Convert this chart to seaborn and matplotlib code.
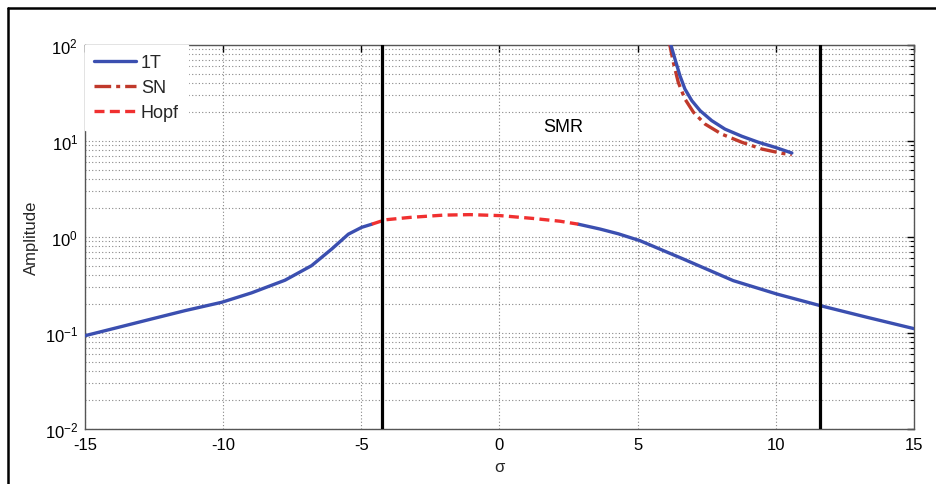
import matplotlib
matplotlib.use("Agg")
import matplotlib.pyplot as plt
import seaborn as sns
import numpy as np
import pandas as pd
from matplotlib.lines import Line2D
from matplotlib.ticker import LogLocator, FixedLocator, NullFormatter

# ---- data ----
t1_left_x = [-15.0, -13.79, -12.59, -11.38, -10.05, -8.97, -7.76, -6.80, -6.07, -5.47, -4.99, -4.62]
t1_left_y = [0.0937, 0.1146, 0.140, 0.171, 0.209, 0.262, 0.355, 0.503, 0.75, 1.07, 1.26, 1.36]

hopf_x = [-4.62, -4.14, -3.24, -2.03, -1.07, 0.02, 1.22, 2.19, 2.85]
hopf_y = [1.36, 1.51, 1.60, 1.69, 1.71, 1.67, 1.56, 1.46, 1.36]

t1_right_x = [2.85, 3.64, 4.30, 5.09, 6.65, 8.46, 10.03, 11.60, 13.29, 15.0]
t1_right_y = [1.36, 1.21, 1.08, 0.914, 0.59, 0.351, 0.255, 0.193, 0.146, 0.111]

t1_upper_x = [6.17, 6.21, 6.35, 6.53, 6.71, 6.96, 7.26, 7.68, 8.16, 8.77, 9.37, 9.97, 10.58]
t1_upper_y = [110.0, 98.4, 71.4, 47.9, 34.8, 26.3, 20.7, 16.3, 13.3, 11.2, 9.7, 8.6, 7.5]

sn_x = [6.13, 6.17, 6.29, 6.47, 6.71, 7.02, 7.44, 8.04, 8.77, 9.49, 10.21, 10.58]
sn_y = [110.0, 98.0, 66.0, 40.8, 27.4, 19.9, 15.0, 11.8, 9.7, 8.25, 7.45, 7.2]

boundary_x = [-4.25, 11.6]
xticks = [-15, -10, -5, 0, 5, 10, 15]
smr_label = "SMR"
smr_pos = (2.3, 14.0)

BLUE = "#3B4FB0"
SN_RED = "#C0392B"
HOPF_RED = "#F03030"

sns.set_theme(style="white")
plt.rcParams["font.family"] = ["Liberation Sans", "DejaVu Sans"]
plt.rcParams["mathtext.default"] = "regular"
plt.rcParams["axes.unicode_minus"] = False

fig = plt.figure(figsize=(9.37, 4.85), dpi=100)
ax = fig.add_axes([85/937, 1-430/485, (914-85)/937, (430-46)/485])

def seg(x, y, **kw):
    df = pd.DataFrame({"x": x, "y": y})
    sns.lineplot(data=df, x="x", y="y", ax=ax, sort=False, estimator=None, **kw)

ax.set_yscale("log")

lw = 2.4
seg(t1_left_x, t1_left_y, color=BLUE, lw=lw, zorder=4)
seg(t1_right_x, t1_right_y, color=BLUE, lw=lw, zorder=4)
seg(t1_upper_x, t1_upper_y, color=BLUE, lw=lw, zorder=4)
seg(sn_x, sn_y, color=SN_RED, lw=lw, zorder=3, linestyle=(0, (5, 1.5, 1.2, 1.5)))
seg(hopf_x, hopf_y, color=HOPF_RED, lw=lw, zorder=4, linestyle=(0, (3, 1.6)))

for bx in boundary_x:
    ax.axvline(bx, color="black", lw=2.3, zorder=5)

ax.set_xlim(-15, 15)
ax.set_ylim(1e-2, 1e2)
ax.xaxis.set_major_locator(FixedLocator(xticks))
ax.yaxis.set_major_locator(LogLocator(base=10, numticks=10))
ax.yaxis.set_minor_locator(LogLocator(base=10, subs=np.arange(2, 10), numticks=20))
ax.yaxis.set_minor_formatter(NullFormatter())

ax.grid(True, which="major", axis="both", color="#888888", linestyle=(0, (1, 2)), lw=0.8)
ax.grid(True, which="minor", axis="y", color="#888888", linestyle=(0, (1, 2)), lw=0.8)

ax.tick_params(axis="both", which="both", direction="in", top=True, right=True,
               labelsize=12, colors="black")
ax.tick_params(axis="x", which="major", pad=6)
ax.tick_params(axis="y", which="major", pad=5)
ax.tick_params(axis="both", which="major", length=5, width=1)
ax.tick_params(axis="y", which="minor", length=3, width=0.8)
ax.tick_params(axis="x", which="minor", bottom=False, top=False)
for s in ax.spines.values():
    s.set_color("#555555")
    s.set_linewidth(1.0)

ax.set_xlabel("σ", fontsize=12, labelpad=5)
ax.set_ylabel("Amplitude", fontsize=12, labelpad=4)

ax.text(smr_pos[0], smr_pos[1], smr_label, fontsize=13, ha="center", va="center",
        color="black", zorder=6)

handles = [Line2D([], [], color=BLUE, lw=lw),
           Line2D([], [], color=SN_RED, lw=lw, linestyle=(0, (5, 1.5, 1.2, 1.5))),
           Line2D([], [], color=HOPF_RED, lw=lw, linestyle=(0, (3, 1.6)))]
leg = ax.legend(handles, ["1T", "SN", "Hopf"], loc="upper left", fontsize=13,
                frameon=True, fancybox=False, handlelength=2.3, handletextpad=0.3,
                labelspacing=0.45, borderaxespad=0.0, borderpad=0.5)
leg.get_frame().set_facecolor("white")
leg.get_frame().set_edgecolor("white")
leg.get_frame().set_alpha(1.0)
leg.set_zorder(10)

# outer frame of the figure panel
fig.add_artist(Line2D([8/937, 8/937], [0, 1-9/485], color="black", lw=1.8,
                      transform=fig.transFigure))
fig.add_artist(Line2D([8/937, 1], [1-9/485, 1-9/485], color="black", lw=1.8,
                      transform=fig.transFigure))

fig.savefig("out.png", dpi=100)
